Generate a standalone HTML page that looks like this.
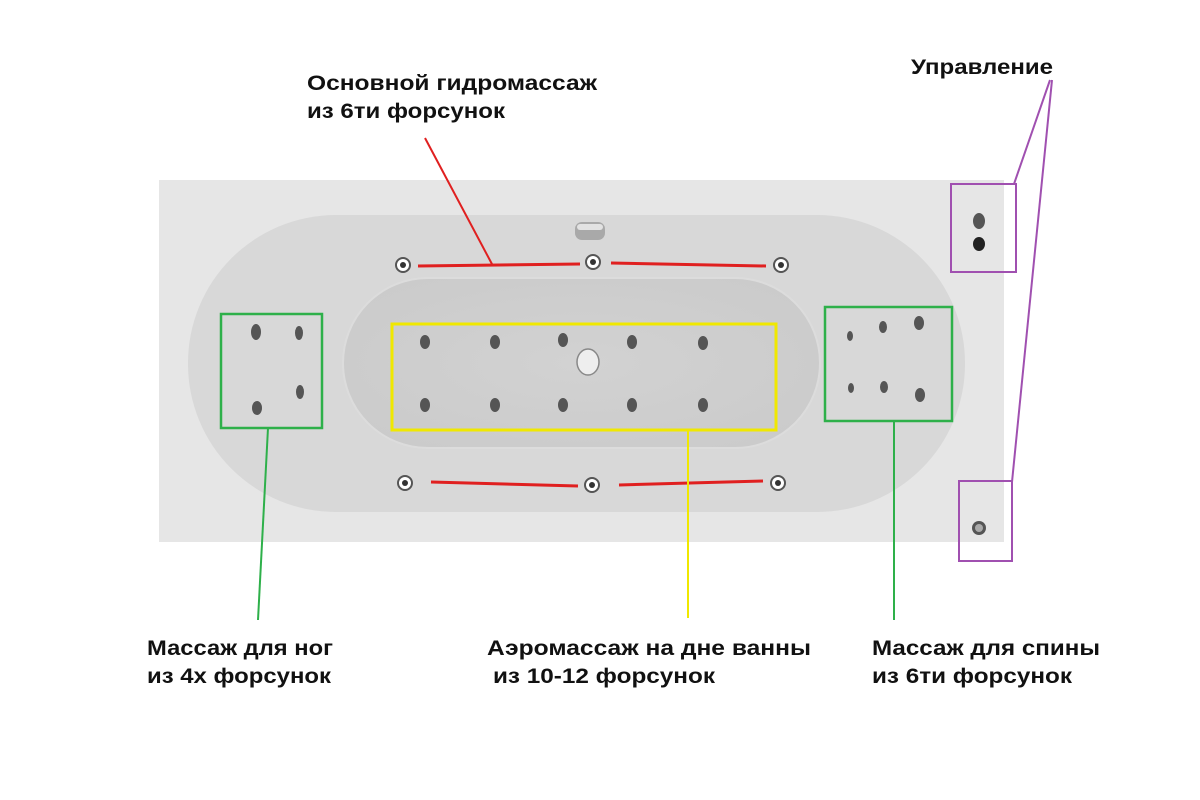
<!DOCTYPE html>
<html><head><meta charset="utf-8"><style>
html,body{margin:0;padding:0;background:#fff;}
svg{display:block;}
text{font-family:"Liberation Sans","DejaVu Sans",sans-serif;font-weight:bold;font-size:21px;fill:#111;}
</style></head><body>
<svg width="1200" height="800" viewBox="0 0 1200 800" xmlns="http://www.w3.org/2000/svg">
<defs>
<radialGradient id="g1" cx="0.5" cy="0.5" r="0.6"><stop offset="0" stop-color="#d2d2d2"/><stop offset="1" stop-color="#cbcbcb"/></radialGradient>
</defs>
<rect x="159" y="180" width="845" height="362" fill="#e6e6e6"/>
<rect x="188" y="215" width="777" height="297" rx="148" ry="148" fill="#d8d8d8"/>
<rect x="343" y="278" width="477" height="170" rx="85" ry="85" fill="url(#g1)" stroke="#dcdcdc" stroke-width="2"/>
<!-- overflow -->
<rect x="575" y="222" width="30" height="18" rx="7" fill="#a9a9a9"/>
<rect x="577" y="224" width="26" height="6" rx="3" fill="#e2e2e2"/>
<!-- side jets -->
<g fill="#fff" stroke="#555" stroke-width="2">
<circle cx="403" cy="265" r="7"/><circle cx="593" cy="262" r="7"/><circle cx="781" cy="265" r="7"/>
<circle cx="405" cy="483" r="7"/><circle cx="592" cy="485" r="7"/><circle cx="778" cy="483" r="7"/>
</g>
<g fill="#333">
<circle cx="403" cy="265" r="3"/><circle cx="593" cy="262" r="3"/><circle cx="781" cy="265" r="3"/>
<circle cx="405" cy="483" r="3"/><circle cx="592" cy="485" r="3"/><circle cx="778" cy="483" r="3"/>
</g>
<!-- bottom jets -->
<g fill="#555">
<ellipse cx="425" cy="342" rx="5" ry="7"/><ellipse cx="495" cy="342" rx="5" ry="7"/><ellipse cx="563" cy="340" rx="5" ry="7"/><ellipse cx="632" cy="342" rx="5" ry="7"/><ellipse cx="703" cy="343" rx="5" ry="7"/>
<ellipse cx="425" cy="405" rx="5" ry="7"/><ellipse cx="495" cy="405" rx="5" ry="7"/><ellipse cx="563" cy="405" rx="5" ry="7"/><ellipse cx="632" cy="405" rx="5" ry="7"/><ellipse cx="703" cy="405" rx="5" ry="7"/>
<ellipse cx="256" cy="332" rx="5" ry="8"/><ellipse cx="299" cy="333" rx="4" ry="7"/><ellipse cx="257" cy="408" rx="5" ry="7"/><ellipse cx="300" cy="392" rx="4" ry="7"/>
<ellipse cx="850" cy="336" rx="3" ry="5"/><ellipse cx="883" cy="327" rx="4" ry="6"/><ellipse cx="919" cy="323" rx="5" ry="7"/>
<ellipse cx="851" cy="388" rx="3" ry="5"/><ellipse cx="884" cy="387" rx="4" ry="6"/><ellipse cx="920" cy="395" rx="5" ry="7"/>
<ellipse cx="979" cy="221" rx="6" ry="8"/><ellipse cx="979" cy="244" rx="6" ry="7" fill="#222"/><circle cx="979" cy="528" r="7"/>
</g>
<ellipse cx="588" cy="362" rx="11" ry="13" fill="#eee" stroke="#888" stroke-width="1.5"/>
<circle cx="979" cy="528" r="4" fill="#aaa"/>
<!-- red -->
<g stroke="#e02020" stroke-width="3" fill="none">
<line x1="418" y1="266" x2="580" y2="264"/><line x1="611" y1="263" x2="766" y2="266"/>
<line x1="431" y1="482" x2="578" y2="486"/><line x1="619" y1="485" x2="763" y2="481"/>
<line x1="425" y1="138" x2="493" y2="266" stroke-width="2"/>
</g>
<!-- yellow -->
<rect x="392" y="324" width="384" height="106" fill="none" stroke="#f0e800" stroke-width="3"/>
<line x1="688" y1="430" x2="688" y2="618" stroke="#f0e800" stroke-width="2"/>
<!-- green -->
<g stroke="#2eb04a" fill="none">
<rect x="221" y="314" width="101" height="114" stroke-width="2.5"/>
<rect x="825" y="307" width="127" height="114" stroke-width="2.5"/>
<line x1="268" y1="428" x2="258" y2="620" stroke-width="2"/>
<line x1="894" y1="421" x2="894" y2="620" stroke-width="2"/>
</g>
<!-- purple -->
<g stroke="#a050b0" fill="none" stroke-width="2">
<rect x="951" y="184" width="65" height="88"/>
<rect x="959" y="481" width="53" height="80"/>
<line x1="1050" y1="80" x2="1014" y2="184"/>
<line x1="1052" y1="80" x2="1012" y2="482"/>
</g>
<!-- text -->
<text x="307" y="90" textLength="290" lengthAdjust="spacingAndGlyphs">Основной гидромассаж</text>
<text x="307" y="118" textLength="198" lengthAdjust="spacingAndGlyphs">из 6ти форсунок</text>
<text x="911" y="74" textLength="142" lengthAdjust="spacingAndGlyphs">Управление</text>
<text x="147" y="655" textLength="186" lengthAdjust="spacingAndGlyphs">Массаж для ног</text>
<text x="147" y="683" textLength="184" lengthAdjust="spacingAndGlyphs">из 4х форсунок</text>
<text x="487" y="655" textLength="324" lengthAdjust="spacingAndGlyphs">Аэромассаж на дне ванны</text>
<text x="493" y="683" textLength="222" lengthAdjust="spacingAndGlyphs">из 10-12 форсунок</text>
<text x="872" y="655" textLength="228" lengthAdjust="spacingAndGlyphs">Массаж для спины</text>
<text x="872" y="683" textLength="200" lengthAdjust="spacingAndGlyphs">из 6ти форсунок</text>
</svg>
</body></html>
